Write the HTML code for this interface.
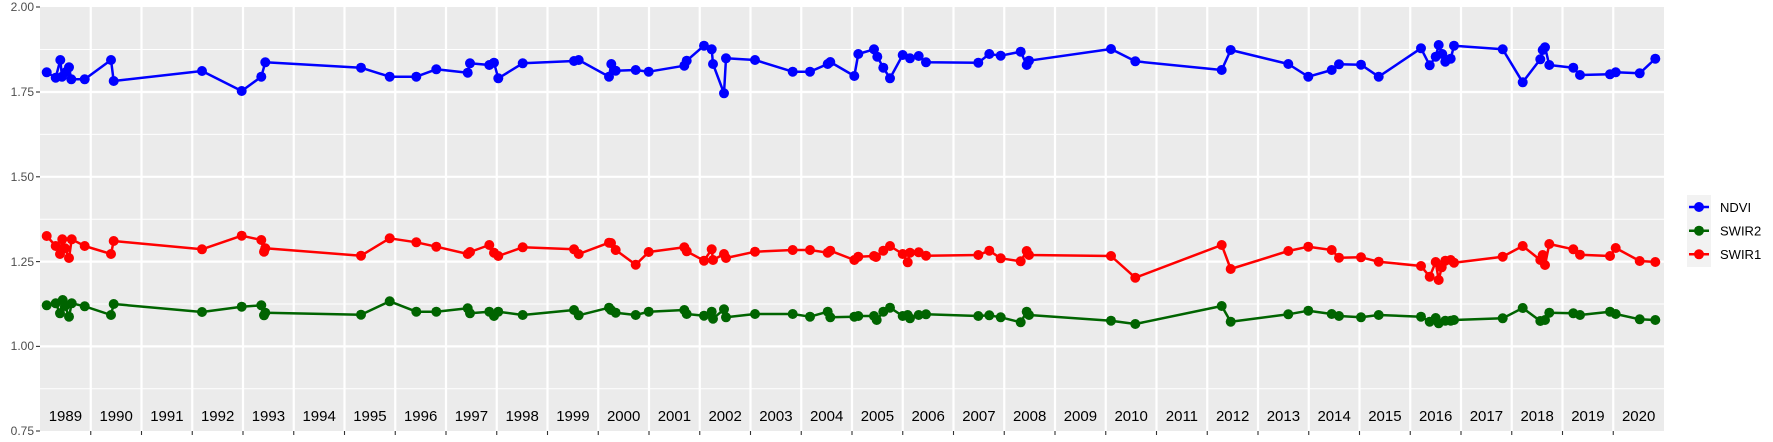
<!DOCTYPE html>
<html><head><meta charset="utf-8"><style>body{margin:0;background:#fff}svg{display:block}</style></head><body>
<svg width="1773" height="442" xmlns="http://www.w3.org/2000/svg" font-family="Liberation Sans, sans-serif">
<rect x="40" y="7" width="1624" height="424" fill="#ebebeb"/>
<g stroke="#fff" stroke-width="1">
<line x1="40" x2="1664" y1="49.5" y2="49.5"/><line x1="40" x2="1664" y1="134.4" y2="134.4"/><line x1="40" x2="1664" y1="219.2" y2="219.2"/><line x1="40" x2="1664" y1="304" y2="304"/><line x1="40" x2="1664" y1="388.8" y2="388.8"/>
</g>
<g stroke="#fff" stroke-width="2.2">
<line x1="40" x2="1664" y1="92" y2="92"/><line x1="40" x2="1664" y1="176.8" y2="176.8"/><line x1="40" x2="1664" y1="261.6" y2="261.6"/><line x1="40" x2="1664" y1="346.4" y2="346.4"/>
</g>
<g id="vg" stroke="#fff" stroke-width="2.2"></g>
<g id="bt" stroke="#333" stroke-width="1.1"></g>
<g stroke="#333" stroke-width="1.1">
<line x1="36" x2="40" y1="7" y2="7"/><line x1="36" x2="40" y1="92" y2="92"/><line x1="36" x2="40" y1="176.8" y2="176.8"/><line x1="36" x2="40" y1="261.6" y2="261.6"/><line x1="36" x2="40" y1="346.4" y2="346.4"/><line x1="36" x2="40" y1="431" y2="431"/>
</g>
<g font-size="12" fill="#4d4d4d" text-anchor="end">
<text x="34" y="11">2.00</text><text x="34" y="96">1.75</text><text x="34" y="181">1.50</text><text x="34" y="266">1.25</text><text x="34" y="350">1.00</text><text x="34" y="435">0.75</text>
</g>
<g id="yl" font-size="15" fill="#000" text-anchor="middle"></g>
<g id="series"></g>
<rect x="1687" y="195" width="24" height="72" fill="#f2f2f2"/>
<line x1="1689" x2="1709" y1="207" y2="207" stroke="#0000ff" stroke-width="2.5"/><circle cx="1699" cy="207" r="5" fill="#0000ff"/>
<line x1="1689" x2="1709" y1="230.7" y2="230.7" stroke="#006400" stroke-width="2.5"/><circle cx="1699" cy="230.7" r="5" fill="#006400"/>
<line x1="1689" x2="1709" y1="254.3" y2="254.3" stroke="#ff0000" stroke-width="2.5"/><circle cx="1699" cy="254.3" r="5" fill="#ff0000"/>
<g font-size="13" fill="#000"><text x="1720" y="212">NDVI</text><text x="1720" y="235.5">SWIR2</text><text x="1720" y="259">SWIR1</text></g>
</svg>
<script>
var NS="http://www.w3.org/2000/svg";
function el(p,t,a,txt){var e=document.createElementNS(NS,t);for(var k in a)e.setAttribute(k,a[k]);if(txt)e.textContent=txt;p.appendChild(e);return e;}
var vg=document.getElementById('vg'),bt=document.getElementById('bt'),yl=document.getElementById('yl');
for(var k=1;k<32;k++){var x=40+50.75*k;el(vg,'line',{x1:x,x2:x,y1:7,y2:431});el(bt,'line',{x1:x,x2:x,y1:431,y2:435});}
for(var k=0;k<32;k++){el(yl,'text',{x:40+50.75*k+25.4,y:421},String(1989+k));}
var blue=[[46.7,72.3],[55.7,77.7],[60.3,60],[62,76.7],[66,72],[69,67.3],[71.3,79.3],[84.7,79.3],[111,60],[113.7,81],[202,71],[241.7,91],[261.3,76.7],[265.3,62.3],[361,67.7],[389.7,76.7],[416.3,76.7],[436.3,69.3],[467.7,72.7],[470,63.3],[489.3,65],[494,62.7],[498.3,78.3],[522.7,63.3],[574,61],[578.7,60],[609,76.7],[611.3,64],[615.7,70.7],[635.7,70],[648.7,71.7],[684.3,65.7],[686.7,60.7],[704,45.7],[711.7,49.3],[713,64],[724,93.3],[726,58.3],[755,60],[792.7,71.7],[810,71.7],[827.7,64],[830.3,62],[854.3,76],[858.3,54],[874,49.3],[877.3,56.7],[883.3,67.7],[890,78.3],[902.7,55],[910,58.3],[918.7,56],[926,62.3],[978.3,62.7],[989.3,54],[1000.7,55.7],[1020.7,51.7],[1026.7,65],[1029,60.7],[1111,49],[1135.3,61.3],[1221.7,70],[1230.7,50],[1288.3,64],[1308.3,76.7],[1331.7,70],[1339,64.3],[1361,64.7],[1378.7,76.7],[1421,48.3],[1429.7,65.3],[1435.7,56.7],[1438.7,45],[1442.3,54],[1445.3,61.7],[1450.7,58.7],[1454,45.7],[1502.7,49.3],[1522.7,82.3],[1540.3,59.3],[1542.7,50],[1545,47.3],[1549.3,65],[1573.3,67.7],[1580,75],[1610,74.3],[1615.7,72.3],[1639.7,73.3],[1655.3,58.7]];
var red=[[46.7,236],[55.7,246],[60,254],[62.3,239.3],[65,248.3],[69,258],[71.7,239.3],[84.7,246],[111,254],[113.7,241],[202,249.3],[241.7,235.7],[261.3,240],[264,251.7],[265.3,248.3],[361,255.7],[389.7,238.3],[416.3,242.3],[436.3,246.7],[467.7,254],[470,252],[489.3,245],[494,252.7],[498.3,256],[522.7,247.3],[574,249.3],[578.7,254],[609,242.7],[611,243],[615.7,250],[635.7,264.7],[648.7,252],[684.3,247.3],[686.7,251.3],[704,260.7],[711.7,249.3],[713,260],[724,254],[726,258],[755,251.7],[792.7,250],[810,250],[827.7,252.7],[830.3,250.7],[854.3,260],[858.3,256.7],[874,256],[876,257],[883.3,250.7],[890,246],[902.7,254],[907.7,262.3],[910,252.7],[918.7,252.3],[926,255.7],[978.3,255],[989.3,250.7],[1000.7,258.3],[1020.7,261.3],[1026.7,251],[1029,255],[1111,256],[1135.3,277.7],[1221.7,245],[1230.7,269],[1288.3,251],[1308.3,246.7],[1331.7,250],[1339,257.7],[1361,257.3],[1378.7,261.7],[1421,266],[1429.7,276.7],[1435.7,262],[1438.7,280],[1441.7,267.3],[1445.3,260.7],[1450.7,260],[1454,262.7],[1502.7,256.7],[1522.7,246],[1540.3,260],[1542.7,255],[1545,265],[1549.3,244],[1573.3,249.3],[1580,254.7],[1610,256],[1615.7,248],[1639.7,261],[1655.3,262]];
var green=[[46.7,305.3],[55.7,303.3],[60,313.3],[62.7,300],[65,306],[69,316.7],[71.7,303.3],[84.7,306.3],[111,315],[113.7,304],[202,312],[241.7,306.7],[261.3,305.3],[264,315.3],[265.3,312.7],[361,314.7],[389.7,301.3],[416.3,311.7],[436.3,311.7],[467.7,308.3],[470,313.3],[489.3,311.7],[494,316],[498.3,311.7],[522.7,315],[574,310],[578.7,315.3],[609,307.7],[611,310],[615.7,312.7],[635.7,315],[648.7,311.7],[684.3,310],[686.7,314],[704,315.7],[711.7,311.7],[713,318.7],[724,309.3],[726,317.3],[755,314],[792.7,314],[810,316.7],[827.7,311.7],[830.3,317.3],[854.3,316.7],[858.3,316],[874,316],[876.7,320],[883.3,311.7],[890,307.7],[902.7,316],[907.7,315],[910,318.3],[918.7,315],[926,314.3],[978.3,316],[989.3,315.3],[1000.7,317.3],[1020.7,322.3],[1026.7,311.7],[1029,315],[1111,320.7],[1135.3,324],[1221.7,306],[1230.7,321.7],[1288.3,314.3],[1308.3,310.7],[1331.7,314],[1339,316],[1361,317.3],[1378.7,315],[1421,316.7],[1429.7,321.7],[1435.7,318],[1438.7,323.3],[1445.3,320.7],[1450.7,320.7],[1454,320],[1502.7,318.3],[1522.7,308],[1540.3,321],[1545,320],[1549.3,312.7],[1573.3,313.3],[1580,315],[1610,311.7],[1615.7,314],[1639.7,319.3],[1655.3,320]];
var g=document.getElementById('series');
[[blue,'#0000ff'],[green,'#006400'],[red,'#ff0000']].forEach(function(s){
 el(g,'polyline',{points:s[0].map(function(p){return p.join(',')}).join(' '),fill:'none',stroke:s[1],'stroke-width':2.5,'stroke-linejoin':'round'});
 s[0].forEach(function(p){el(g,'circle',{cx:p[0],cy:p[1],r:5,fill:s[1]});});
});
</script>
</body></html>
